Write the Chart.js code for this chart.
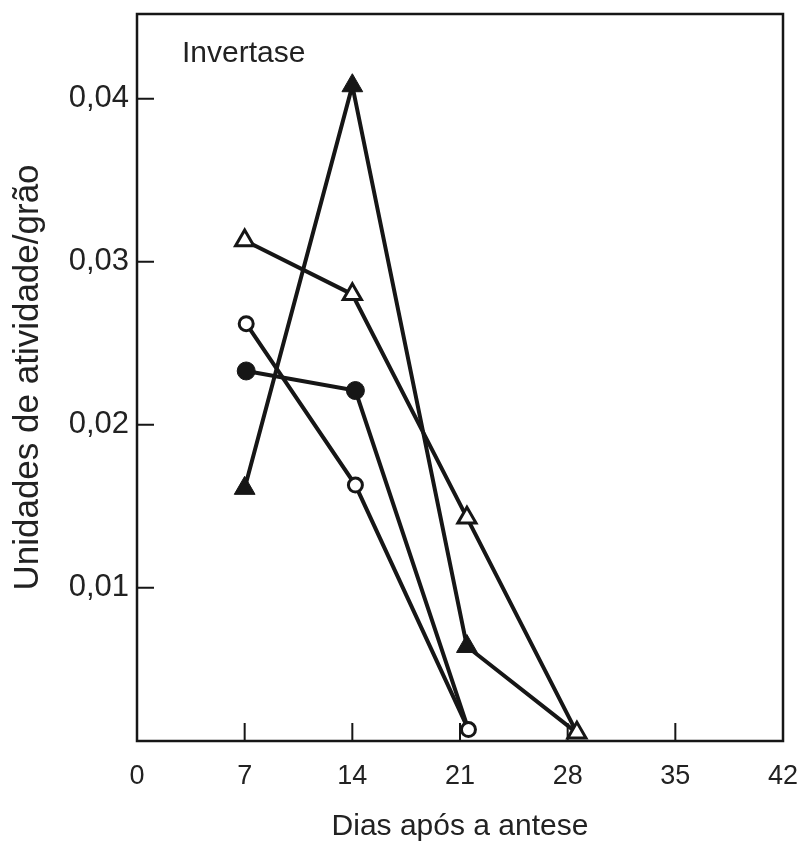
<!DOCTYPE html>
<html>
<head>
<meta charset="utf-8">
<script src="https://cdn.jsdelivr.net/npm/chart.js@4.4.0/dist/chart.umd.min.js"></script>
<style>
  html, body { margin: 0; padding: 0; background: #fff; }
  #wrap { width: 812px; height: 842px; }
</style>
</head>
<body>
<div id="wrap"><canvas id="chart" width="812" height="842"></canvas></div>
<script>
// eixo x (dias) e eixo y (unidades/grão)
const xTicks = [7, 14, 21, 28, 35];
const yTicks = [0.01, 0.02, 0.03, 0.04];

// triângulo aberto
const diasTriAberto = [7, 14, 21.45, 28.6];
const valTriAberto = [0.0313, 0.0280, 0.0143, 0.0011];
// círculo aberto
const diasCircAberto = [7.1, 14.2, 21.55];
const valCircAberto = [0.0262, 0.0163, 0.0013];
// círculo cheio
const diasCircCheio = [7.1, 14.2, 21.55];
const valCircCheio = [0.0233, 0.0221, 0.0013];
// triângulo cheio
const diasTriCheio = [7, 14, 21.45, 28.6];
const valTriCheio = [0.0161, 0.0408, 0.0064, 0.0011];

const INK = '#161616';
Chart.defaults.font.family = "'Liberation Sans', Arial, sans-serif";
Chart.defaults.color = '#222';

const pts = (xs, ys) => xs.map((x, i) => ({ x: x, y: ys[i] }));

// moldura, marcas internas e rótulo "Invertase"
const framePlugin = {
  id: 'frame',
  beforeDatasetsDraw(chart) {
    const { ctx, chartArea: a, scales } = chart;
    ctx.save();
    ctx.strokeStyle = INK;
    ctx.lineWidth = 2.5;
    ctx.strokeRect(a.left, a.top, a.right - a.left, a.bottom - a.top);
    ctx.lineWidth = 2;
    ctx.beginPath();
    xTicks.forEach(v => {
      const px = scales.x.getPixelForValue(v);
      ctx.moveTo(px, a.bottom);
      ctx.lineTo(px, a.bottom - 18);
    });
    yTicks.forEach(v => {
      const py = scales.y.getPixelForValue(v);
      ctx.moveTo(a.left, py);
      ctx.lineTo(a.left + 17, py);
    });
    ctx.stroke();
    ctx.fillStyle = '#222';
    ctx.font = "30px 'Liberation Sans', Arial, sans-serif";
    ctx.textBaseline = 'alphabetic';
    ctx.fillText('Invertase', a.left + 45, a.top + 48);
    ctx.restore();
  }
};

const common = {
  showLine: true,
  borderColor: INK,
  borderWidth: 4,
  pointBorderColor: INK,
  clip: false
};

new Chart(document.getElementById('chart'), {
  type: 'scatter',
  data: {
    datasets: [
      Object.assign({}, common, {
        data: pts(diasTriAberto, valTriAberto),
        pointStyle: 'triangle', pointRadius: 10.5, pointBorderWidth: 3,
        pointBackgroundColor: '#fff'
      }),
      Object.assign({}, common, {
        data: pts(diasCircAberto, valCircAberto),
        pointStyle: 'circle', pointRadius: 7, pointBorderWidth: 3,
        pointBackgroundColor: '#fff'
      }),
      Object.assign({}, common, {
        data: pts(diasCircCheio, valCircCheio),
        pointStyle: 'circle', pointRadius: [9, 9, 0], pointBorderWidth: 1,
        pointBackgroundColor: INK
      }),
      Object.assign({}, common, {
        data: pts(diasTriCheio, valTriCheio),
        pointStyle: 'triangle', pointRadius: [12, 12, 12, 0], pointBorderWidth: 1,
        pointBackgroundColor: INK
      })
    ]
  },
  options: {
    responsive: false,
    animation: false,
    layout: { padding: { left: 0, top: 14, right: 29, bottom: 0 } },
    plugins: { legend: { display: false }, tooltip: { enabled: false } },
    scales: {
      x: {
        type: 'linear', position: 'bottom', min: 0, max: 42,
        grid: { display: false, drawTicks: false },
        border: { display: false },
        ticks: { stepSize: 7, padding: 19, font: { size: 27 } },
        title: {
          display: true, text: 'Dias após a antese',
          font: { size: 30, lineHeight: 1 }, padding: { top: 0, bottom: 0 }
        },
        afterFit(scale) {
          scale.height = 101;
          scale.paddingLeft = 0;
          scale.paddingRight = 0;
        }
      },
      y: {
        type: 'linear', min: 0.0006, max: 0.0452,
        grid: { display: false, drawTicks: false },
        border: { display: false },
        afterBuildTicks(scale) { scale.ticks = yTicks.map(v => ({ value: v })); },
        ticks: {
          padding: 8, font: { size: 31 },
          callback: v => v.toFixed(2).replace('.', ',')
        },
        title: {
          display: true, text: 'Unidades de atividade/grão',
          font: { size: 35, lineHeight: 1.2 }, padding: { top: 7, bottom: 0 }
        },
        afterFit(scale) {
          scale.width = 137;
          scale.paddingTop = 0;
          scale.paddingBottom = 0;
        }
      }
    }
  },
  plugins: [framePlugin]
});
</script>
</body>
</html>
